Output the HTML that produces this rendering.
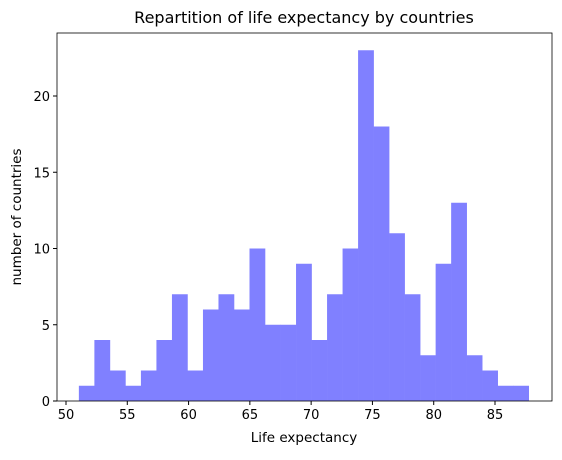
<!DOCTYPE html>
<html><head><meta charset="utf-8"><style>
body{margin:0;background:#fff;}
svg text{font-family:"DejaVu Sans","Liberation Sans",sans-serif;fill:#000;}
</style></head><body>
<svg id="chart" width="562" height="455" xmlns="http://www.w3.org/2000/svg">
<rect width="562" height="455" fill="#fff"/>
<g id="bars"></g>
<g id="axes"></g>
<text x="304" y="23" font-size="16" text-anchor="middle">Repartition of life expectancy by countries</text>
<text x="304" y="442" font-size="13.5" text-anchor="middle">Life expectancy</text>
<text x="0" y="0" font-size="13.5" text-anchor="middle" transform="translate(21,217) rotate(-90)">number of countries</text>
</svg>
<script>
const counts=[1,4,2,1,2,4,7,2,6,7,6,10,5,5,9,4,7,10,23,18,11,7,3,9,13,3,2,1,1];
const binStart=51.05;
const binEnd=87.75;
const xTicks=[50,55,60,65,70,75,80,85];
const yTicks=[0,5,10,15,20];
const L=57,R=552,T=33,B=401;
function xs(v){return 66+(v-50)*(429/35);}
function ys(v){return 401-v*15.25;}
const NS="http://www.w3.org/2000/svg";
const bars=document.getElementById('bars');
const w=(binEnd-binStart)/counts.length;
counts.forEach((c,i)=>{
  const r=document.createElementNS(NS,'rect');
  const x0=xs(binStart+i*w),x1=xs(binStart+(i+1)*w);
  r.setAttribute('x',x0);r.setAttribute('width',x1-x0+0.3);
  r.setAttribute('y',ys(c));r.setAttribute('height',ys(0)-ys(c));
  r.setAttribute('fill','#8080ff');
  
  
  bars.appendChild(r);
});
const ax=document.getElementById('axes');
const frame=document.createElementNS(NS,'rect');
frame.setAttribute('x',L);frame.setAttribute('y',T);frame.setAttribute('width',R-L);frame.setAttribute('height',B-T);
frame.setAttribute('fill','none');frame.setAttribute('stroke','#000');frame.setAttribute('stroke-width','0.8');


ax.appendChild(frame);
xTicks.forEach(t=>{
  const x=xs(t);
  const l=document.createElementNS(NS,'line');
  l.setAttribute('x1',x);l.setAttribute('x2',x);l.setAttribute('y1',B);l.setAttribute('y2',B+4);l.setAttribute('stroke','#000');
  
  
  ax.appendChild(l);
  const tx=document.createElementNS(NS,'text');
  tx.setAttribute('x',x);tx.setAttribute('y',B+18);tx.setAttribute('font-size','13');tx.setAttribute('text-anchor','middle');
  tx.textContent=t;
  
  
  ax.appendChild(tx);
});
yTicks.forEach(t=>{
  const y=ys(t);
  const l=document.createElementNS(NS,'line');
  l.setAttribute('x1',L-4);l.setAttribute('x2',L);l.setAttribute('y1',y);l.setAttribute('y2',y);l.setAttribute('stroke','#000');
  
  
  ax.appendChild(l);
  const tx=document.createElementNS(NS,'text');
  tx.setAttribute('x',L-7);tx.setAttribute('y',y+5);tx.setAttribute('font-size','13');tx.setAttribute('text-anchor','end');
  tx.textContent=t;
  
  
  ax.appendChild(tx);
});
</script>
</body></html>
